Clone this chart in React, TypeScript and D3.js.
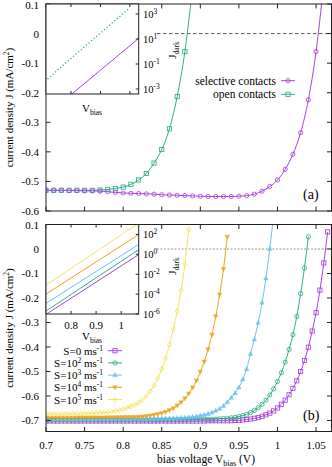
import * as d3 from "d3";

const FONT = "'Liberation Serif', 'DejaVu Serif', serif";
const W = 332;
const H = 467;

// colours (gnuplot default palette)
const PURPLE = "#a543e0";
const GREEN = "#2fae86";
const BLUE = "#6cc0ee";
const ORANGE = "#eba31a";
const YELLOW = "#f1e45c";

// ---------- panel (a) ----------
const vA = [0.70, 0.71, 0.72, 0.73, 0.74, 0.75, 0.76, 0.77, 0.78, 0.79, 0.80, 0.81, 0.82, 0.83, 0.84, 0.85, 0.86, 0.87, 0.88, 0.89, 0.90, 0.91, 0.92, 0.93, 0.94, 0.95, 0.96, 0.97, 0.98, 0.99, 1.00, 1.01, 1.02, 1.03, 1.04, 1.05, 1.06];
const selective = [-0.530, -0.530, -0.530, -0.531, -0.531, -0.532, -0.532, -0.533, -0.535, -0.537, -0.539, -0.540, -0.541, -0.542, -0.543, -0.545, -0.546, -0.547, -0.548, -0.549, -0.550, -0.551, -0.551, -0.551, -0.551, -0.550, -0.548, -0.543, -0.533, -0.517, -0.495, -0.459, -0.408, -0.335, -0.224, -0.061, 0.17];
const openC = [-0.530, -0.530, -0.530, -0.530, -0.530, -0.530, -0.530, -0.529, -0.527, -0.524, -0.519, -0.510, -0.495, -0.473, -0.438, -0.392, -0.322, -0.213, -0.061, 0.16];

// inset (a): dark current
const vDarkSel = [0.80, 0.90, 1.00, 1.03];
const darkSel = [3.5e-4, 0.032, 2.9, 11.5];
const vDarkOpen = [0.72, 0.80, 0.90, 1.00];
const darkOpen = [6.3e-3, 0.28, 30, 3200];
const insetATicks = [1e3, 1e1, 1e-1, 1e-3];

// ---------- panel (b) ----------
const vB = [0.700, 0.705, 0.710, 0.715, 0.720, 0.725, 0.730, 0.735, 0.740, 0.745, 0.750, 0.755, 0.760, 0.765, 0.770, 0.775, 0.780, 0.785, 0.790, 0.795, 0.800, 0.805, 0.810, 0.815, 0.820, 0.825, 0.830, 0.835, 0.840, 0.845, 0.850, 0.855, 0.860, 0.865, 0.870, 0.875, 0.880, 0.885, 0.890, 0.895, 0.900, 0.905, 0.910, 0.915, 0.920, 0.925, 0.930, 0.935, 0.940, 0.945, 0.950, 0.955, 0.960, 0.965, 0.970, 0.975, 0.980, 0.985, 0.990, 0.995, 1.000, 1.005, 1.010, 1.015, 1.020, 1.025, 1.030, 1.035, 1.040, 1.045, 1.050, 1.055, 1.060, 1.065];
const s0 = [-0.702, -0.702, -0.702, -0.702, -0.702, -0.702, -0.702, -0.702, -0.702, -0.702, -0.702, -0.702, -0.702, -0.702, -0.702, -0.702, -0.702, -0.702, -0.702, -0.702, -0.702, -0.702, -0.702, -0.702, -0.702, -0.702, -0.702, -0.702, -0.702, -0.702, -0.702, -0.702, -0.702, -0.702, -0.702, -0.702, -0.702, -0.702, -0.702, -0.702, -0.702, -0.702, -0.701, -0.701, -0.701, -0.701, -0.701, -0.701, -0.701, -0.700, -0.699, -0.698, -0.696, -0.694, -0.691, -0.688, -0.683, -0.677, -0.670, -0.661, -0.649, -0.634, -0.617, -0.595, -0.569, -0.538, -0.500, -0.455, -0.401, -0.335, -0.260, -0.168, -0.057, 0.070];
const s2 = [-0.697, -0.697, -0.697, -0.697, -0.697, -0.697, -0.697, -0.697, -0.697, -0.697, -0.697, -0.697, -0.697, -0.697, -0.697, -0.697, -0.697, -0.697, -0.697, -0.697, -0.697, -0.697, -0.697, -0.697, -0.697, -0.697, -0.697, -0.697, -0.697, -0.697, -0.697, -0.697, -0.697, -0.697, -0.696, -0.696, -0.696, -0.696, -0.696, -0.695, -0.695, -0.695, -0.695, -0.695, -0.694, -0.693, -0.692, -0.691, -0.689, -0.687, -0.684, -0.680, -0.675, -0.668, -0.659, -0.648, -0.634, -0.617, -0.596, -0.571, -0.541, -0.505, -0.462, -0.410, -0.350, -0.275, -0.182, -0.077, 0.050];
const s3 = [-0.695, -0.695, -0.695, -0.695, -0.695, -0.695, -0.695, -0.695, -0.695, -0.695, -0.695, -0.695, -0.695, -0.694, -0.694, -0.694, -0.694, -0.694, -0.694, -0.694, -0.694, -0.694, -0.694, -0.693, -0.693, -0.693, -0.693, -0.693, -0.693, -0.692, -0.692, -0.692, -0.692, -0.691, -0.690, -0.689, -0.688, -0.687, -0.685, -0.683, -0.680, -0.677, -0.673, -0.667, -0.660, -0.652, -0.640, -0.625, -0.607, -0.588, -0.565, -0.532, -0.490, -0.428, -0.369, -0.301, -0.219, -0.120, 0.000, 0.140];
const s4 = [-0.689, -0.689, -0.689, -0.689, -0.689, -0.689, -0.689, -0.689, -0.688, -0.688, -0.688, -0.688, -0.688, -0.688, -0.688, -0.688, -0.687, -0.687, -0.687, -0.687, -0.686, -0.686, -0.686, -0.686, -0.685, -0.684, -0.682, -0.680, -0.677, -0.674, -0.670, -0.665, -0.658, -0.650, -0.639, -0.626, -0.610, -0.590, -0.566, -0.537, -0.502, -0.460, -0.410, -0.350, -0.275, -0.186, -0.082, 0.050];
const s5 = [-0.674, -0.674, -0.674, -0.674, -0.674, -0.674, -0.674, -0.673, -0.673, -0.673, -0.672, -0.672, -0.671, -0.670, -0.669, -0.668, -0.666, -0.664, -0.661, -0.658, -0.654, -0.649, -0.643, -0.636, -0.627, -0.615, -0.600, -0.581, -0.557, -0.527, -0.490, -0.445, -0.390, -0.328, -0.254, -0.168, -0.062, 0.080];

// inset (b): dark current, one line per recombination velocity
const vDarkB = [0.70, 0.80, 0.90, 1.00, 1.07];
const dark0 = [9.3e-7, 3.9e-5, 1.6e-3, 0.069, 0.93];
const dark2 = [2e-6, 9.3e-5, 4.4e-3, 0.2, 2.95];
const dark3 = [1.17e-5, 4.7e-4, 0.0186, 0.74, 10];
const dark4 = [1e-4, 4.2e-3, 0.174, 7.2, 100];
const dark5 = [8e-4, 0.038, 1.86, 89, 1350];
const insetBTicks = [1e2, 1e0, 1e-2, 1e-4, 1e-6];

const xTicks = [0.7, 0.75, 0.8, 0.85, 0.9, 0.95, 1, 1.05];
const yTicksA = [0.1, 0, -0.1, -0.2, -0.3, -0.4, -0.5, -0.6];
const yTicksB = [0.1, 0, -0.1, -0.2, -0.3, -0.4, -0.5, -0.6, -0.7];
const insetXTicksA = [0.8, 0.9, 1.0];
const insetXTicksB = [0.8, 0.9, 1];

const seriesB = [
  { label: "0", sup: false, values: s0, color: PURPLE, mark: "square", dark: dark0 },
  { label: "2", sup: true, values: s2, color: GREEN, mark: "circle", dark: dark2 },
  { label: "3", sup: true, values: s3, color: BLUE, mark: "tri", dark: dark3 },
  { label: "4", sup: true, values: s4, color: ORANGE, mark: "itri", dark: dark4 },
  { label: "5", sup: true, values: s5, color: YELLOW, mark: "diamond", dark: dark5 },
];

const fmt = (v: number) => String(+v.toFixed(2));

function Marker({ kind, x, y, color }: { kind: string; x: number; y: number; color: string }) {
  if (kind === "circle")
    return <circle cx={x} cy={y} r={2.1} fill="none" stroke={color} strokeWidth={0.85} />;
  if (kind === "square")
    return <rect x={x - 2.1} y={y - 2.1} width={4.2} height={4.2} fill="none" stroke={color} strokeWidth={0.85} />;
  if (kind === "tri")
    return <path d={`M${x},${y - 2.5}L${x + 2.3},${y + 1.6}L${x - 2.3},${y + 1.6}Z`} fill={color} fillOpacity={0.85} stroke={color} strokeWidth={0.4} />;
  if (kind === "itri")
    return <path d={`M${x},${y + 2.5}L${x + 2.3},${y - 1.6}L${x - 2.3},${y - 1.6}Z`} fill={color} fillOpacity={0.85} stroke={color} strokeWidth={0.4} />;
  return <path d={`M${x},${y - 2.5}L${x + 2.2},${y}L${x},${y + 2.5}L${x - 2.2},${y}Z`} fill="none" stroke={color} strokeWidth={0.85} />;
}

function Frame({ x0, x1, y0, y1 }: { x0: number; x1: number; y0: number; y1: number }) {
  return <rect x={x0} y={y0} width={x1 - x0} height={y1 - y0} fill="none" stroke="#222" strokeWidth={1} />;
}

export default function App() {
  const X0 = 46, X1 = 331.5;
  const x = d3.scaleLinear().domain([0.7, 1.07]).range([X0, X1]);
  const yA = d3.scaleLinear().domain([-0.6, 0.1]).range([211, 4]);
  const yB = d3.scaleLinear().domain([-0.745, 0.1]).range([431.5, 224.5]);

  const IX1 = 138.7;
  const ixA = d3.scaleLinear().domain([0.715, 1.03]).range([X0, IX1]);
  const iyA = d3.scaleLog().domain([10 ** -3.4, 10 ** 3.8]).range([94, 4]);
  const ixB = d3.scaleLinear().domain([0.7, 1.07]).range([X0, IX1]);
  const iyB = d3.scaleLog().domain([1e-6, 1e3]).range([314, 224.5]);

  const lineA = d3.line<[number, number]>().x((d) => x(d[0])).y((d) => yA(d[1])).curve(d3.curveMonotoneX);
  const lineB = d3.line<[number, number]>().x((d) => x(d[0])).y((d) => yB(d[1])).curve(d3.curveMonotoneX);
  const darkLineA = d3.line<[number, number]>().x((d) => ixA(d[0])).y((d) => iyA(d[1]));
  const darkLineB = d3.line<[number, number]>().x((d) => ixB(d[0])).y((d) => iyB(d[1]));

  const selPts = selective.map((v, i) => [vA[i], v] as [number, number]);
  const openPts = openC.map((v, i) => [vA[i], v] as [number, number]);

  const tick = 4.5;
  const itick = 3;

  const legendA = [
    { text: "selective contacts", color: PURPLE, mark: "circle" },
    { text: "open contacts", color: GREEN, mark: "square" },
  ];

  return (
    <svg width={W} height={H} style={{ position: "absolute", left: 0, top: 0 }} fontFamily={FONT} fontSize={11}>
      <defs>
        <clipPath id="clipA"><rect x={X0} y={4} width={X1 - X0} height={207} /></clipPath>
        <clipPath id="clipB"><rect x={X0} y={224.5} width={X1 - X0} height={207} /></clipPath>
        <clipPath id="clipIA"><rect x={X0} y={4} width={IX1 - X0} height={90} /></clipPath>
        <clipPath id="clipIB"><rect x={X0} y={224.5} width={IX1 - X0} height={89.5} /></clipPath>
      </defs>
      <rect width={W} height={H} fill="#fff" />

      {/* ================= panel (a) ================= */}
      <line x1={157} x2={X1} y1={yA(0)} y2={yA(0)} stroke="#444" strokeWidth={0.9} strokeDasharray="3.5,2.5" />
      <g clipPath="url(#clipA)">
        <path d={lineA(openPts) ?? ""} fill="none" stroke={GREEN} strokeWidth={1} />
        <path d={lineA(selPts) ?? ""} fill="none" stroke={PURPLE} strokeWidth={1} />
        {openPts.map((d, i) => <Marker key={"o" + i} kind="square" x={x(d[0])} y={yA(d[1])} color={GREEN} />)}
        {selPts.map((d, i) => <Marker key={"s" + i} kind="circle" x={x(d[0])} y={yA(d[1])} color={PURPLE} />)}
      </g>
      <Frame x0={X0} x1={X1} y0={4} y1={211} />
      {xTicks.map((t) => (
        <g key={"xa" + t}>
          <line x1={x(t)} x2={x(t)} y1={211} y2={211 - tick} stroke="#222" />
          <line x1={x(t)} x2={x(t)} y1={4} y2={4 + tick} stroke="#222" />
        </g>
      ))}
      {yTicksA.map((t) => (
        <g key={"ya" + t}>
          <line x1={X0} x2={X0 + tick} y1={yA(t)} y2={yA(t)} stroke="#222" />
          <line x1={X1} x2={X1 - tick} y1={yA(t)} y2={yA(t)} stroke="#222" />
          <text x={39} y={Math.max(yA(t) + 4, 8.5)} textAnchor="end">{fmt(t)}</text>
        </g>
      ))}
      <text transform={`translate(13,${(4 + 211) / 2}) rotate(-90)`} textAnchor="middle">
        current density J (mA/cm<tspan dy={-4} fontSize="7.5">2</tspan><tspan dy={4}>)</tspan>
      </text>

      {/* inset (a) */}
      <rect x={X0} y={4} width={IX1 - X0} height={90} fill="#fff" />
      <g clipPath="url(#clipIA)">
        <path d={darkLineA(vDarkOpen.map((v, i) => [v, darkOpen[i]] as [number, number])) ?? ""} fill="none" stroke={GREEN} strokeWidth={1.3} strokeDasharray="1.2,2.2" />
        <path d={darkLineA(vDarkSel.map((v, i) => [v, darkSel[i]] as [number, number])) ?? ""} fill="none" stroke={PURPLE} strokeWidth={1} />
      </g>
      <Frame x0={X0} x1={IX1} y0={4} y1={94} />
      {insetXTicksA.map((t) => (
        <g key={"ixa" + t}>
          <line x1={ixA(t)} x2={ixA(t)} y1={4} y2={4 + itick} stroke="#222" />
          <line x1={ixA(t)} x2={ixA(t)} y1={94} y2={94 - itick} stroke="#222" />
        </g>
      ))}
      {insetATicks.map((t) => (
        <g key={"iya" + t}>
          <line x1={IX1} x2={IX1 - itick} y1={iyA(t)} y2={iyA(t)} stroke="#222" />
          <text x={143} y={iyA(t) + 4} fontSize={10.5}>
            10<tspan dy={-4} fontSize="7.5">{fmt(Math.log10(t))}</tspan>
          </text>
        </g>
      ))}
      <text x={92} y={112} textAnchor="middle" fontSize={11}>
        V<tspan dy={3} fontSize="7.5">bias</tspan>
      </text>
      <text transform="translate(176,50) rotate(-90)" textAnchor="middle" fontSize={11}>
        J<tspan dy={3} fontSize="7.5">dark</tspan>
      </text>

      {/* legend (a) */}
      {legendA.map((e, i) => {
        const ly = 80.7 + i * 13.6;
        return (
          <g key={e.text}>
            <text x={276} y={ly + 4} textAnchor="end" fontSize={11.5}>{e.text}</text>
            <line x1={281} x2={295} y1={ly} y2={ly} stroke={e.color} strokeWidth={1} />
            <Marker kind={e.mark} x={288} y={ly} color={e.color} />
          </g>
        );
      })}
      <text x={303} y={199} fontSize={14}>(a)</text>

      {/* ================= panel (b) ================= */}
      <line x1={157} x2={X1} y1={yB(0)} y2={yB(0)} stroke="#999" strokeWidth={1} strokeDasharray="2,1.5" />
      <g clipPath="url(#clipB)">
        {seriesB.map((s) => (
          <path key={"lb" + s.label} d={lineB(s.values.map((v, i) => [vB[i], v] as [number, number])) ?? ""} fill="none" stroke={s.color} strokeWidth={1} />
        ))}
        {seriesB.map((s) =>
          s.values.map((v, i) => <Marker key={"mb" + s.label + i} kind={s.mark} x={x(vB[i])} y={yB(v)} color={s.color} />)
        )}
      </g>
      <Frame x0={X0} x1={X1} y0={224.5} y1={431.5} />
      {xTicks.map((t) => (
        <g key={"xb" + t}>
          <line x1={x(t)} x2={x(t)} y1={431.5} y2={431.5 - tick} stroke="#222" />
          <line x1={x(t)} x2={x(t)} y1={224.5} y2={224.5 + tick} stroke="#222" />
          <text x={x(t)} y={449} textAnchor="middle">{fmt(t)}</text>
        </g>
      ))}
      {yTicksB.map((t) => (
        <g key={"yb" + t}>
          <line x1={X0} x2={X0 + tick} y1={yB(t)} y2={yB(t)} stroke="#222" />
          <line x1={X1} x2={X1 - tick} y1={yB(t)} y2={yB(t)} stroke="#222" />
          <text x={39} y={yB(t) + 4} textAnchor="end">{fmt(t)}</text>
        </g>
      ))}
      <text transform={`translate(13,${(224.5 + 431.5) / 2}) rotate(-90)`} textAnchor="middle">
        current density J (mA/cm<tspan dy={-4} fontSize="7.5">2</tspan><tspan dy={4}>)</tspan>
      </text>
      <text x={206} y={463} textAnchor="middle" fontSize={11.5}>
        bias voltage V<tspan dy={3} fontSize="8">bias</tspan><tspan dy={-3}> (V)</tspan>
      </text>

      {/* inset (b) */}
      <rect x={X0} y={224.5} width={IX1 - X0} height={89.5} fill="#fff" />
      <g clipPath="url(#clipIB)">
        {seriesB.map((s) => (
          <path key={"ib" + s.label} d={darkLineB(vDarkB.map((v, i) => [v, s.dark[i]] as [number, number])) ?? ""} fill="none" stroke={s.color} strokeWidth={1} />
        ))}
      </g>
      <Frame x0={X0} x1={IX1} y0={224.5} y1={314} />
      {insetXTicksB.map((t) => (
        <g key={"ixb" + t}>
          <line x1={ixB(t)} x2={ixB(t)} y1={224.5} y2={224.5 + itick} stroke="#222" />
          <line x1={ixB(t)} x2={ixB(t)} y1={314} y2={314 - itick} stroke="#222" />
          <text x={ixB(t)} y={328.5} textAnchor="middle">{fmt(t)}</text>
        </g>
      ))}
      {insetBTicks.map((t) => (
        <g key={"iyb" + t}>
          <line x1={IX1} x2={IX1 - itick} y1={iyB(t)} y2={iyB(t)} stroke="#222" />
          <text x={143} y={iyB(t) + 4} fontSize={10.5}>
            10<tspan dy={-4} fontSize="7.5">{fmt(Math.log10(t))}</tspan>
          </text>
        </g>
      ))}
      <text x={92} y={340} textAnchor="middle" fontSize={11}>
        V<tspan dy={3} fontSize="7.5">bias</tspan>
      </text>
      <text transform="translate(176,266) rotate(-90)" textAnchor="middle" fontSize={11}>
        J<tspan dy={3} fontSize="7.5">dark</tspan>
      </text>

      {/* legend (b) */}
      {seriesB.map((s, i) => {
        const ly = 350.7 + i * 12.2;
        return (
          <g key={"lg" + s.label}>
            <text x={103} y={ly + 4} textAnchor="end" fontSize={11}>
              {s.sup ? <>S=10<tspan dy={-4} fontSize="7.5">{s.label}</tspan><tspan dy={4}> ms</tspan></> : "S=0 ms"}
              <tspan dy={-4} fontSize="7.5">-1</tspan>
            </text>
            <line x1={108} x2={122} y1={ly} y2={ly} stroke={s.color} strokeWidth={1} />
            <Marker kind={s.mark} x={115} y={ly} color={s.color} />
          </g>
        );
      })}
      <text x={303} y={420} fontSize={14}>(b)</text>
    </svg>
  );
}
